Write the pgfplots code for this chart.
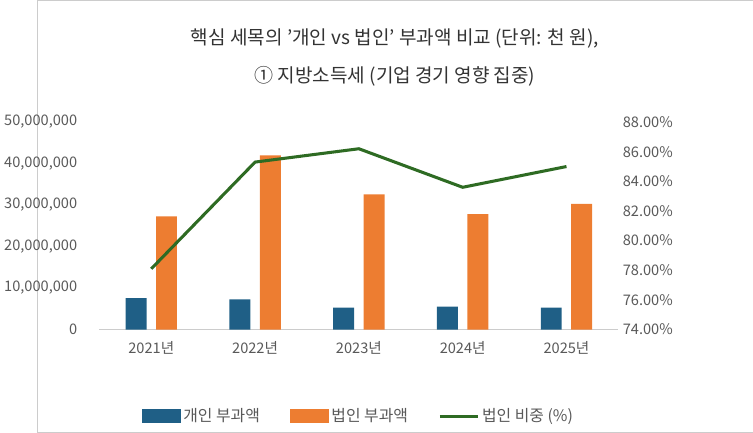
\documentclass[border=0pt]{standalone}
\usepackage{pgfplots}
\pgfplotsset{compat=1.18}
\usepackage{fontspec}
\setmainfont{Noto Sans CJK KR}
\definecolor{cblue}{HTML}{1F5F86}
\definecolor{corange}{HTML}{ED7D31}
\definecolor{cgreen}{HTML}{2E6B23}
\definecolor{tgray}{HTML}{595959}
\begin{document}
\begin{tikzpicture}
\path[draw=gray!40] (-90pt,-81pt) rectangle (474pt,259.5pt);
\begin{axis}[at={(0,0)},anchor=origin,scale only axis,width=409pt,height=163.5pt,
 xmin=-0.5,xmax=4.5,ymin=0,ymax=50000000,scaled y ticks=false,
 /pgf/number format/assume math mode=true,
 axis y line*=left, axis x line*=bottom, x axis line style={draw=gray!40},y axis line style={draw=none},
 xtick={0,1,2,3,4},xticklabels={2021년,2022년,2023년,2024년,2025년},
 ytick={0,10000000,20000000,30000000,40000000,50000000},
 yticklabels={0,{10,000,000},{20,000,000},{30,000,000},{40,000,000},{50,000,000}},
 major tick length=0pt, tick label style={font=\fontsize{11.5}{13}\selectfont,text=tgray},
 xticklabel style={yshift=-6pt}, yticklabel style={xshift=-14pt},
 ybar, bar width=16.5pt]
\addplot[fill=cblue,draw=none,bar shift=-12pt] coordinates {(0,7570000) (1,7300000) (2,5300000) (3,5500000) (4,5300000)};
\addplot[fill=corange,draw=none,bar shift=12pt] coordinates {(0,27300000) (1,42000000) (2,32600000) (3,27800000) (4,30300000)};
\end{axis}
\begin{axis}[at={(0,0)},anchor=origin,scale only axis,width=409pt,height=163.5pt,
 xmin=-0.5,xmax=4.5,ymin=74,ymax=88,
 /pgf/number format/assume math mode=true,
 axis y line*=right, axis x line=none, y axis line style={draw=none},
 ytick={74,76,...,88},yticklabel={\pgfmathprintnumber[fixed,fixed zerofill,precision=2,assume math mode=true]{\tick}\%},
 major tick length=0pt, tick label style={font=\fontsize{11.5}{13}\selectfont,text=tgray},
 legend style={at={(0.5,-0.355)},anchor=north,draw=none,legend columns=3,font=\fontsize{12.5}{14}\selectfont,text=tgray,
   /tikz/every even column/.append style={column sep=22pt}},
 legend image code/.code={\draw[#1] (0pt,0pt) -- (30pt,0pt);},
 legend cell align=left]
\addlegendimage{legend image code/.code={\fill[cblue] (0pt,-5pt) rectangle (30pt,5pt);}}
\addlegendentry{개인 부과액}
\addlegendimage{legend image code/.code={\fill[corange] (0pt,-5pt) rectangle (30pt,5pt);}}
\addlegendentry{법인 부과액}
\addplot[cgreen,line width=2.4pt,mark=none] coordinates {(0,78.1) (1,85.3) (2,86.2) (3,83.6) (4,85.0)};
\addlegendentry{법인 비중 (\%)}
\end{axis}
\node[font=\fontsize{15}{18}\selectfont,text=black!80] at (192pt,229.5pt) {핵심 세목의 '개인 vs 법인' 부과액 비교 (단위: 천 원),};
\node[font=\fontsize{15}{18}\selectfont,text=black!80] at (192pt,199.5pt) {① 지방소득세 (기업 경기 영향 집중)};
\end{tikzpicture}
\end{document}
